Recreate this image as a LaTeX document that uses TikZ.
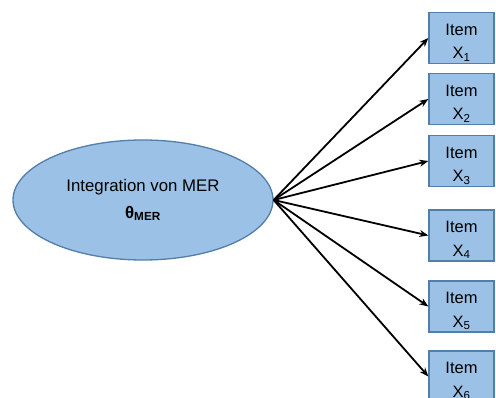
\documentclass[tikz,border=0pt]{standalone}
\usepackage{fontspec}
\setmainfont{Liberation Sans}
\usetikzlibrary{arrows.meta,shapes.geometric}
\definecolor{fillblue}{RGB}{155,194,230}
\definecolor{edgeblue}{RGB}{84,126,168}
\tikzset{
  latent/.style={ellipse, draw=edgeblue, fill=fillblue, line width=1.3pt,
    minimum width=260pt, minimum height=120pt, inner sep=0pt, align=center,
    font=\fontsize{16.8}{26}\selectfont},
  itembox/.style={rectangle, draw=edgeblue, fill=fillblue, line width=1.3pt,
    minimum width=65pt, minimum height=51pt, inner sep=0pt},
  itemtext/.style={inner sep=0pt, align=center,
    font=\fontsize{16.5}{23.5}\selectfont},
  load/.style={-{Stealth[length=9pt,width=7pt]}, line width=1.8pt, black}
}
\begin{document}
\begin{tikzpicture}[x=1pt,y=-1pt]
\useasboundingbox (0,0) rectangle (496,398);
\fill[white] (0,0) rectangle (496,398);
\node[latent] (f) at (143,200) {Integration von MER\\[1pt]\textbf{θ\textsubscript{MER}}};
\foreach \i/\yy in {1/38,2/99,3/161,4/235.5,5/306.5,6/376.5}{
  \node[itembox] (x\i) at (461.5,\yy) {};
  \node[itemtext] (t\i) at ([yshift=-4.5pt]x\i.center) {Item\\X\textsubscript{\i}};
}
\foreach \i in {1,...,6}{
  \draw[load] (f.east) -- (x\i.west);
}
\end{tikzpicture}
\end{document}
